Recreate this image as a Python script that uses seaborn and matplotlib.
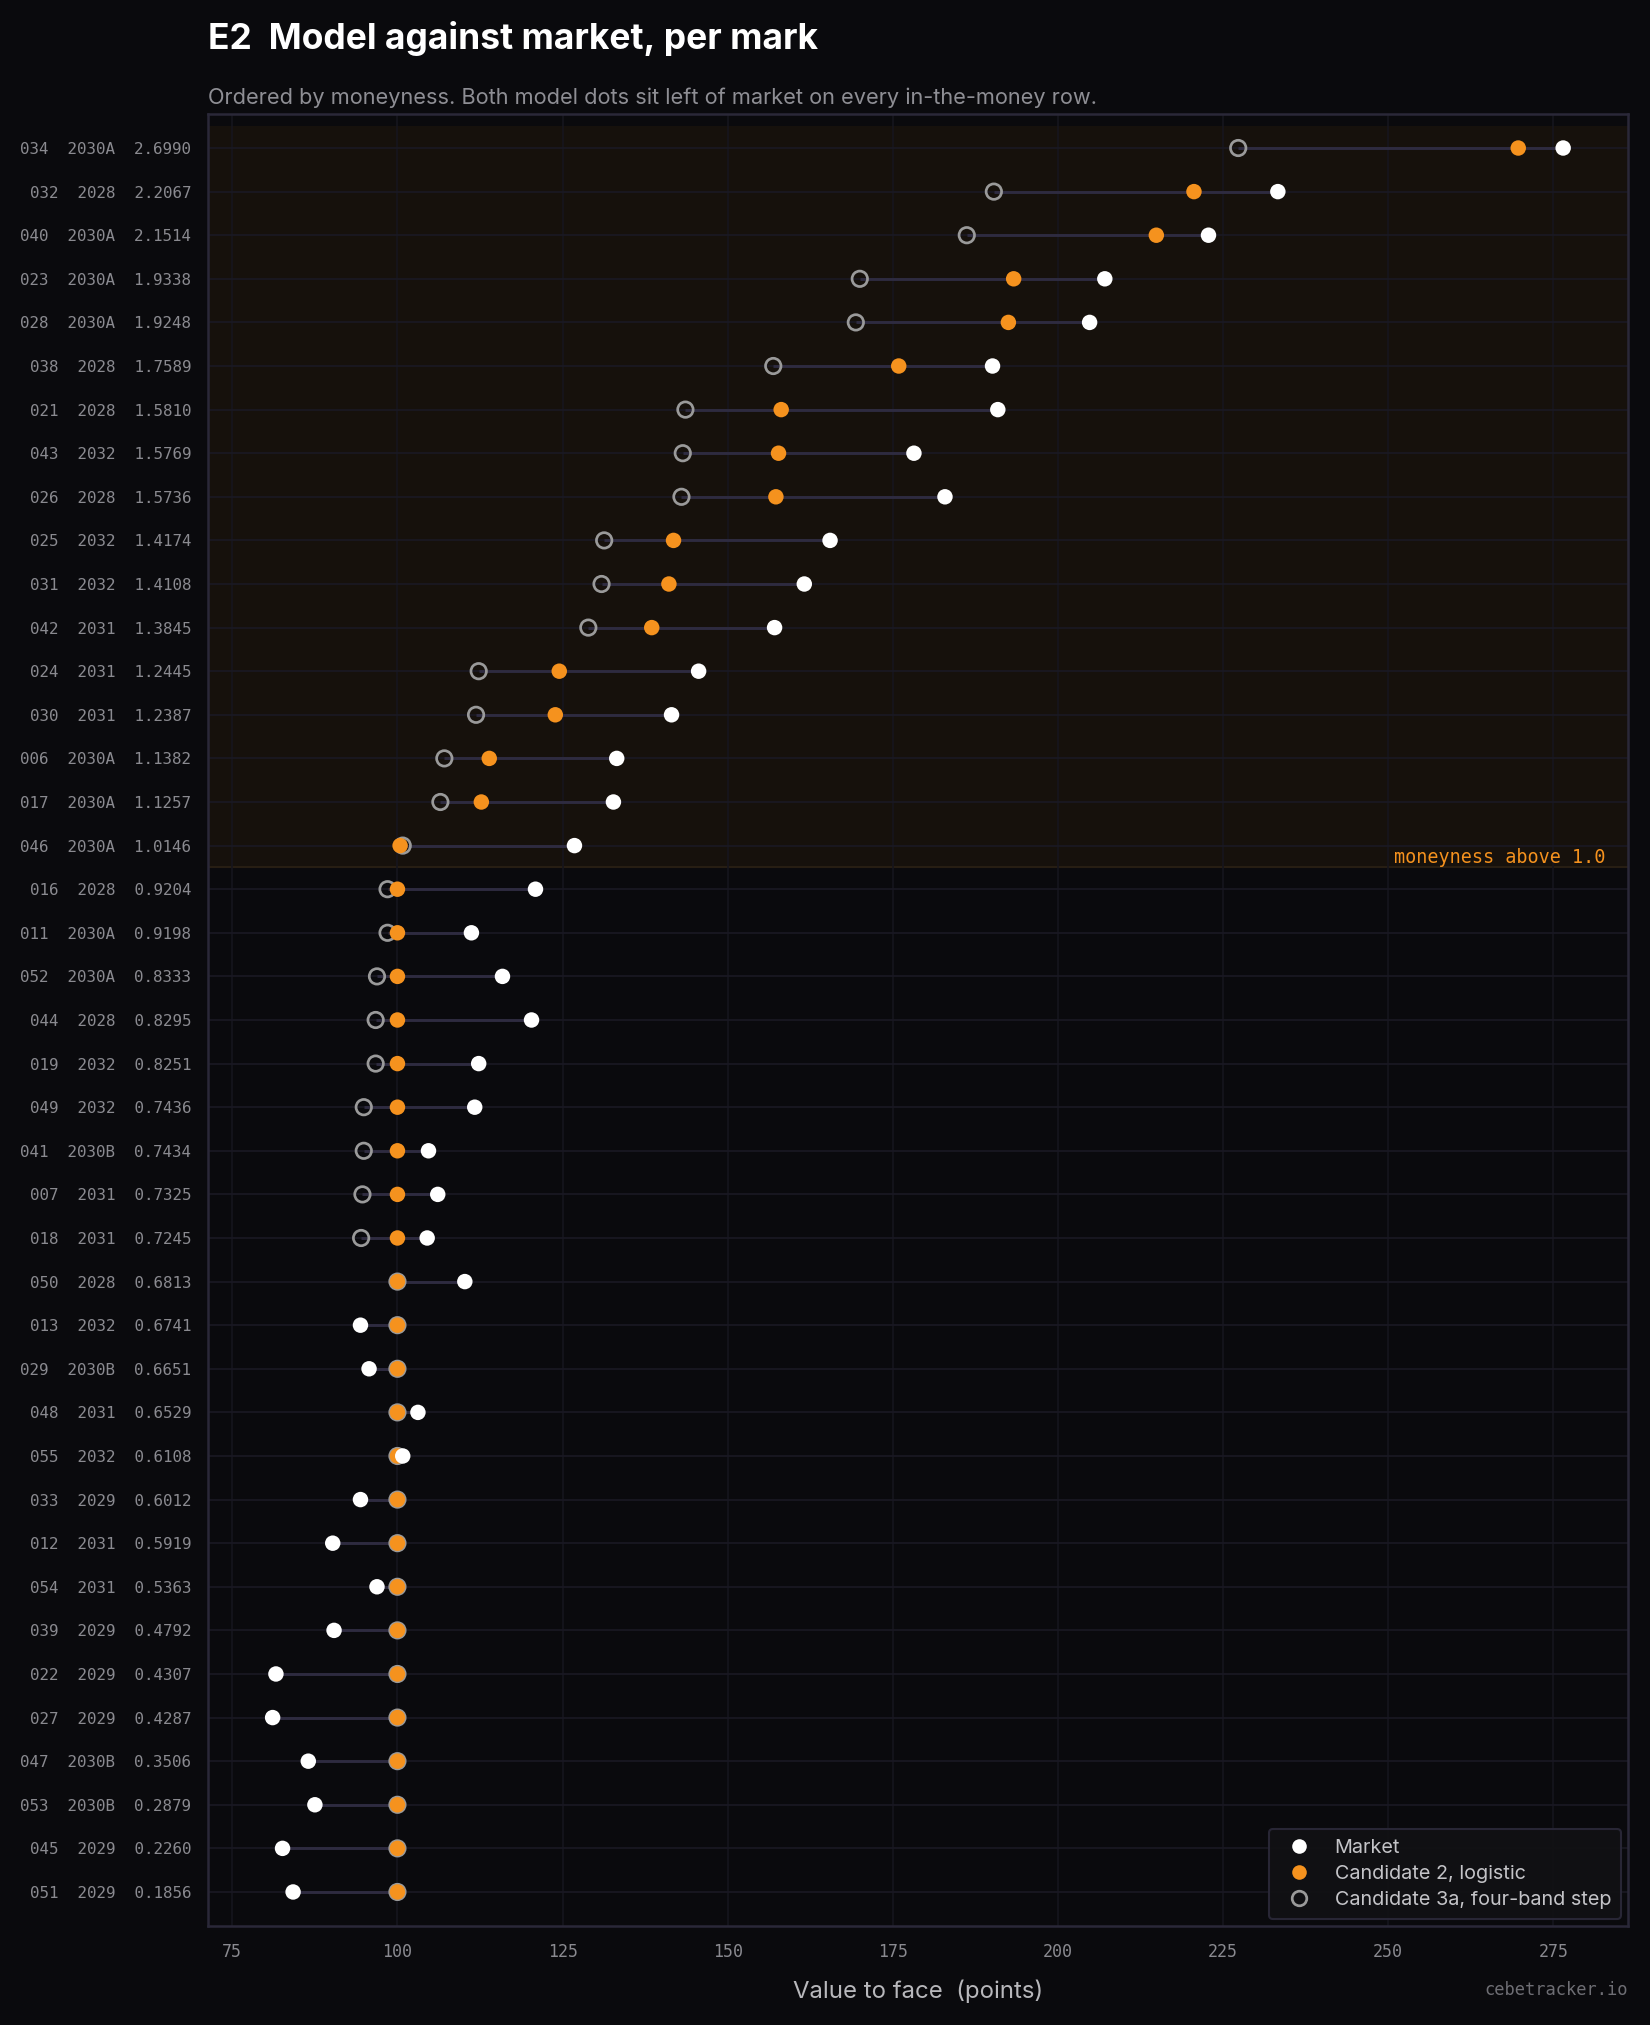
import numpy as np
import pandas as pd
import matplotlib
matplotlib.use("Agg")
import matplotlib.pyplot as plt
import matplotlib.transforms as mtransforms
from matplotlib.lines import Line2D
import seaborn as sns

# ---- data ----
ids = ["034", "032", "040", "023", "028", "038", "021", "043", "026", "025", "031", "042",
       "024", "030", "006", "017", "046", "016", "011", "052", "044", "019", "049", "041",
       "007", "018", "050", "013", "029", "048", "055", "033", "012", "054", "039", "022",
       "027", "047", "053", "045", "051"]
series = ["2030A", "2028", "2030A", "2030A", "2030A", "2028", "2028", "2032", "2028", "2032",
          "2032", "2031", "2031", "2031", "2030A", "2030A", "2030A", "2028", "2030A", "2030A",
          "2028", "2032", "2032", "2030B", "2031", "2031", "2028", "2032", "2030B", "2031",
          "2032", "2029", "2031", "2031", "2029", "2029", "2029", "2030B", "2030B", "2029", "2029"]
moneyness = [2.6990, 2.2067, 2.1514, 1.9338, 1.9248, 1.7589, 1.5810, 1.5769, 1.5736, 1.4174,
             1.4108, 1.3845, 1.2445, 1.2387, 1.1382, 1.1257, 1.0146, 0.9204, 0.9198, 0.8333,
             0.8295, 0.8251, 0.7436, 0.7434, 0.7325, 0.7245, 0.6813, 0.6741, 0.6651, 0.6529,
             0.6108, 0.6012, 0.5919, 0.5363, 0.4792, 0.4307, 0.4287, 0.3506, 0.2879, 0.2260, 0.1856]
market = [276.5, 233.3, 222.8, 207.1, 204.8, 190.1, 190.9, 178.2, 182.9, 165.5,
          161.6, 157.1, 145.6, 141.5, 133.2, 132.7, 126.8, 120.9, 111.2, 115.9,
          120.3, 112.3, 111.7, 104.7, 106.1, 104.5, 110.2, 94.4, 95.7, 103.1,
          100.8, 94.4, 90.2, 96.9, 90.4, 81.6, 81.1, 86.5, 87.5, 82.6, 84.2]
cand2 = [269.7, 220.6, 214.9, 193.3, 192.5, 175.9, 158.1, 157.7, 157.3, 141.8,
         141.1, 138.5, 124.5, 123.9, 113.9, 112.7, 100.4, 100.0, 100.0, 100.0,
         100.0, 100.0, 100.0, 100.0, 100.0, 100.0, 100.0, 100.0, 100.0, 100.0,
         100.0, 100.0, 100.0, 100.0, 100.0, 100.0, 100.0, 100.0, 100.0, 100.0, 100.0]
cand3a = [227.3, 190.3, 186.2, 170.0, 169.4, 156.9, 143.6, 143.2, 143.0, 131.3,
          130.9, 128.9, 112.3, 111.9, 107.1, 106.5, 100.8, 98.5, 98.5, 96.9,
          96.7, 96.7, 94.9, 94.9, 94.7, 94.5, 100.0, 100.0, 100.0, 100.0,
          100.0, 100.0, 100.0, 100.0, 100.0, 100.0, 100.0, 100.0, 100.0, 100.0, 100.0]
x_ticks = [75, 100, 125, 150, 175, 200, 225, 250, 275]

# ---- styling ----
BG = "#0a0a0d"
BAND = "#16110c"
SPINE = "#2a2838"
GRID = "#16151d"
ROWLINE = "#1a1923"
CONN = "#2e2b40"
ORANGE = "#f5921e"
RING = "#9a9a9a"
TICK = "#8a8a90"

sns.set_theme(style="dark")
plt.rcParams["font.family"] = ["Inter", "DejaVu Sans"]

n = len(ids)
df = pd.DataFrame({
    "row": np.arange(n),
    "label": [f"{i}  {s}  {m:.4f}" for i, s, m in zip(ids, series, moneyness)],
    "Market": market,
    "Candidate 2, logistic": cand2,
    "Candidate 3a, four-band step": cand3a,
})
cols = ["Market", "Candidate 2, logistic", "Candidate 3a, four-band step"]
df["lo"] = df[cols].min(axis=1)
df["hi"] = df[cols].max(axis=1)

fig = plt.figure(figsize=(11, 13.5), dpi=150, facecolor=BG)
ax = fig.add_axes([0.126, 0.0489, 0.8606, 0.8948])
ax.set_facecolor(BG)

ylim = (n - 1 + 0.78, -0.78)
xlim = (71.3, 286.3)

# in-the-money band
itm = sum(1 for m in moneyness if m > 1.0)
ax.axhspan(-0.5, itm - 0.5, color=BAND, zorder=0, lw=0)
ax.axhline(itm - 0.5, color="#271e13", lw=1.0, zorder=0.5)

# grids
for xt in x_ticks:
    ax.axvline(xt, color=GRID, lw=0.8, zorder=0.6)
for r in df["row"]:
    ax.axhline(r, color=ROWLINE, lw=0.8, zorder=0.6)

# connectors
ax.hlines(df["row"], df["lo"], df["hi"], color=CONN, lw=1.4, zorder=1)

sns.scatterplot(data=df, x="Candidate 3a, four-band step", y="row", ax=ax,
                marker="o", s=55, facecolor="none", edgecolor=RING, linewidth=1.3,
                zorder=2, legend=False)
sns.scatterplot(data=df, x="Candidate 2, logistic", y="row", ax=ax,
                marker="o", s=55, color=ORANGE, edgecolor="none", linewidth=0,
                zorder=3, legend=False)
sns.scatterplot(data=df, x="Market", y="row", ax=ax,
                marker="o", s=55, color="white", edgecolor="none", linewidth=0,
                zorder=4, legend=False)

ax.set_ylim(*ylim)
ax.set_xlim(*xlim)
ax.set_yticks(df["row"])
ax.set_yticklabels(df["label"], fontfamily="DejaVu Sans Mono", fontsize=7.6, color=TICK)
ax.set_xticks(x_ticks)
ax.set_xticklabels([str(t) for t in x_ticks], fontfamily="DejaVu Sans Mono", fontsize=8.0, color=TICK)
ax.tick_params(axis="both", length=3, width=1, color=SPINE, pad=5)
ax.grid(False)
for sp in ax.spines.values():
    sp.set_color(SPINE)
    sp.set_linewidth(1.2)
ax.set_ylabel("")
ax.set_xlabel("Value to face  (points)", fontsize=11.5, color="#b8b8bc", labelpad=9)

ax.text(0.984, itm - 0.52, "moneyness above 1.0",
        transform=mtransforms.blended_transform_factory(ax.transAxes, ax.transData),
        ha="right", va="bottom", fontfamily="DejaVu Sans Mono", fontsize=8.9, color=ORANGE)

# legend
handles = [
    Line2D([], [], marker="o", ls="none", markersize=7, markerfacecolor="white", markeredgecolor="none"),
    Line2D([], [], marker="o", ls="none", markersize=7, markerfacecolor=ORANGE, markeredgecolor="none"),
    Line2D([], [], marker="o", ls="none", markersize=7, markerfacecolor="none", markeredgecolor=RING, markeredgewidth=1.3),
]
leg = ax.legend(handles, cols,
                loc="lower right", bbox_to_anchor=(1.0, 0.0), borderaxespad=0.35,
                frameon=True, fontsize=9.5,
                labelcolor="#c4c4c8", facecolor="#111114", edgecolor=SPINE, framealpha=0.95,
                handletextpad=0.8, borderpad=0.5, labelspacing=0.42)
leg.get_frame().set_linewidth(1.0)

fig.text(0.126, 0.9812, "E2  Model against market, per mark", fontsize=17, fontweight="bold",
         color="white", ha="left", va="center")
fig.text(0.126, 0.9516, "Ordered by moneyness. Both model dots sit left of market on every in-the-money row.",
         fontsize=10.45, color="#8e8e94", ha="left", va="center")
fig.text(0.9867, 0.0172, "cebetracker.io", fontfamily="DejaVu Sans Mono", fontsize=8.2,
         color="#6e6e74", ha="right", va="center")

fig.savefig("out.png", dpi=150, facecolor=BG)
